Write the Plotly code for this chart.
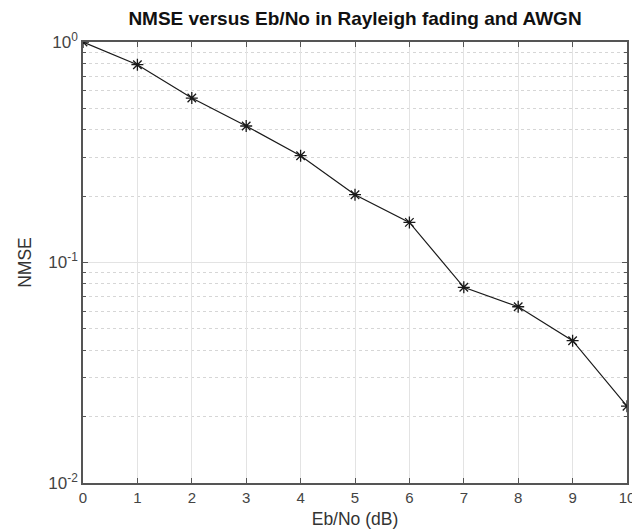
import plotly.graph_objects as go

ebno_db = [0, 1, 2, 3, 4, 5, 6, 7, 8, 9, 10]
nmse = [1.0, 0.789, 0.557, 0.416, 0.305, 0.203, 0.152, 0.0772, 0.0630, 0.0442, 0.0223]

x_ticks = list(range(0, 11))
y_major = [0.01, 0.1, 1]
y_major_text = ["10<sup>-2</sup>", "10<sup>-1</sup>", "10<sup>0</sup>"]
y_minor = [m * d for d in (0.01, 0.1) for m in range(2, 10)]

axis_color = "#555555"
grid_color = "#e3e3e3"
font_family = "Liberation Sans, Arial, sans-serif"

fig = go.Figure()
fig.add_trace(go.Scatter(
    x=ebno_db, y=nmse, mode="lines+markers",
    line=dict(color="#1a1a1a", width=1.2),
    marker=dict(symbol="asterisk-open", size=10, color="#1a1a1a",
                line=dict(color="#1a1a1a", width=1.3)),
    showlegend=False,
))

fig.update_layout(
    width=640, height=531,
    paper_bgcolor="white", plot_bgcolor="white",
    margin=dict(l=75, r=21, t=34, b=56),
    font=dict(family=font_family, size=15, color="#333333"),
    title=dict(text="<b>NMSE versus Eb/No in Rayleigh fading and AWGN</b>",
               x=(75 + 619) / 2 / 640, xanchor="center", y=1 - 4 / 531, yanchor="top",
               font=dict(size=19, color="#111111")),
)

fig.update_xaxes(
    range=[0, 10], tickvals=x_ticks, ticks="inside", ticklen=5,
    tickcolor=axis_color, showline=True, linecolor=axis_color, linewidth=1.5,
    mirror="ticks", showgrid=True, gridcolor=grid_color, gridwidth=1,
    zeroline=False, title=dict(text="Eb/No (dB)", standoff=8, font=dict(size=17.5)),
    tickfont=dict(size=15, color="#444444"),
)
fig.update_yaxes(
    type="log", range=[-2, 0], tickvals=y_major, ticktext=y_major_text,
    ticks="inside", ticklen=5, tickcolor=axis_color, showline=True,
    linecolor=axis_color, linewidth=1.5, mirror="ticks", showgrid=True,
    gridcolor=grid_color, gridwidth=1, zeroline=False,
    title=dict(text="NMSE", standoff=12, font=dict(size=17.5)),
    tickfont=dict(size=17, color="#444444"),
    minor=dict(tickvals=y_minor, ticks="inside", ticklen=3, tickcolor=axis_color,
               showgrid=True, gridcolor="#d6d6d6", griddash="dot", gridwidth=1),
)

fig.write_html("out.html")
